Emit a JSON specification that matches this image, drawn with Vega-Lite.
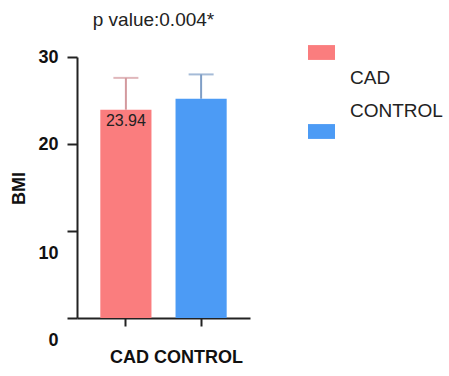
{
  "$schema": "https://vega.github.io/schema/vega-lite/v6.json",
  "autosize": "none",
  "padding": {"left": 77, "top": 57, "right": 199, "bottom": 58},
  "width": 173,
  "height": 261,
  "background": "white",
  "config": {"font": "Liberation Sans", "view": {"stroke": null}},
  "title": {"text": "p value:0.004*", "fontSize": 19, "fontWeight": "normal", "color": "#222", "anchor": "middle", "frame": "group", "dx": -10, "dy": 20, "offset": 14, "baseline": "alphabetic"},
  "data": {"values": [
    {"group": "CAD", "mean": 23.94, "upper": 27.6, "label": "23.94"},
    {"group": "CONTROL", "mean": 25.2, "upper": 28.0, "label": ""}
  ]},
  "encoding": {
    "x": {"field": "group", "type": "nominal", "sort": ["CAD", "CONTROL"],
      "scale": {"paddingInner": 0.32, "paddingOuter": 0.31},
      "axis": {"title": "CAD CONTROL", "labels": false, "ticks": true, "tickSize": 8, "tickWidth": 2, "tickColor": "#222",
        "domainColor": "#222", "domainWidth": 2, "titleFontSize": 18, "titleFontWeight": "bold", "titleColor": "#111",
        "titleX": 99, "titleY": 39, "titleBaseline": "middle", "titleAlign": "center"}}
  },
  "layer": [
    {
      "mark": {"type": "rule", "strokeWidth": 2},
      "encoding": {
        "y": {"field": "mean", "type": "quantitative"},
        "y2": {"field": "upper"},
        "color": {"condition": {"test": "datum.group == 'CAD'", "value": "#D3999E"}, "value": "#7F9EC6"}
      }
    },
    {
      "mark": {"type": "tick", "thickness": 2, "size": 25},
      "encoding": {
        "y": {"field": "upper", "type": "quantitative"},
        "color": {"condition": {"test": "datum.group == 'CAD'", "value": "#D3999E"}, "value": "#7F9EC6"}
      }
    },
    {
      "mark": {"type": "bar"},
      "encoding": {
        "y": {"field": "mean", "type": "quantitative", "scale": {"domain": [0, 30], "nice": false},
          "axis": {"title": "BMI", "values": [0, 10, 20, 30], "ticks": true, "tickWidth": 2,
            "tickSize": {"condition": {"test": "datum.value <= 10", "value": 10}, "value": 10},
            "tickColor": {"condition": {"test": "datum.value <= 10", "value": "#222"}, "value": "#222"},
            "domainColor": "#222", "domainWidth": 2, "grid": false, "labelFontSize": 18, "labelFontWeight": "bold", "labelColor": "#111",
            "labelPadding": 9, "titleFontSize": 18, "titleFontWeight": "bold", "titleColor": "#111",
            "titleX": -58, "titleY": 131, "titleBaseline": "middle", "titleAngle": 270, "titleAlign": "center",
            "labelLineHeight": 44,
            "labelBaseline": {"condition": {"test": "datum.value <= 10", "value": "line-top"}, "value": "middle"}}},
        "fill": {"field": "group", "type": "nominal", "scale": {"domain": ["CAD", "CONTROL"], "range": ["#FA7D7E", "#4C9BF5"]},
          "legend": {"title": null, "orient": "none", "legendX": 231, "legendY": -18, "padding": 0,
            "symbolType": "M-1,-0.55H1V0.55H-1Z", "symbolSize": 729, "symbolStrokeWidth": 0, "symbolOpacity": 1,
            "labelFontSize": 19, "labelColor": "#222", "labelOffset": 15, "rowPadding": 13,
            "encode": {"labels": {"update": {"dy": {"signal": "datum.value == 'CAD' ? 25 : -21"}}}}}}
      }
    },
    {
      "transform": [{"filter": "datum.label != ''"}],
      "mark": {"type": "text", "baseline": "top", "dy": 3, "fontSize": 16, "color": "#222"},
      "encoding": {
        "y": {"field": "mean", "type": "quantitative"},
        "text": {"field": "label"}
      }
    }
  ]
}
